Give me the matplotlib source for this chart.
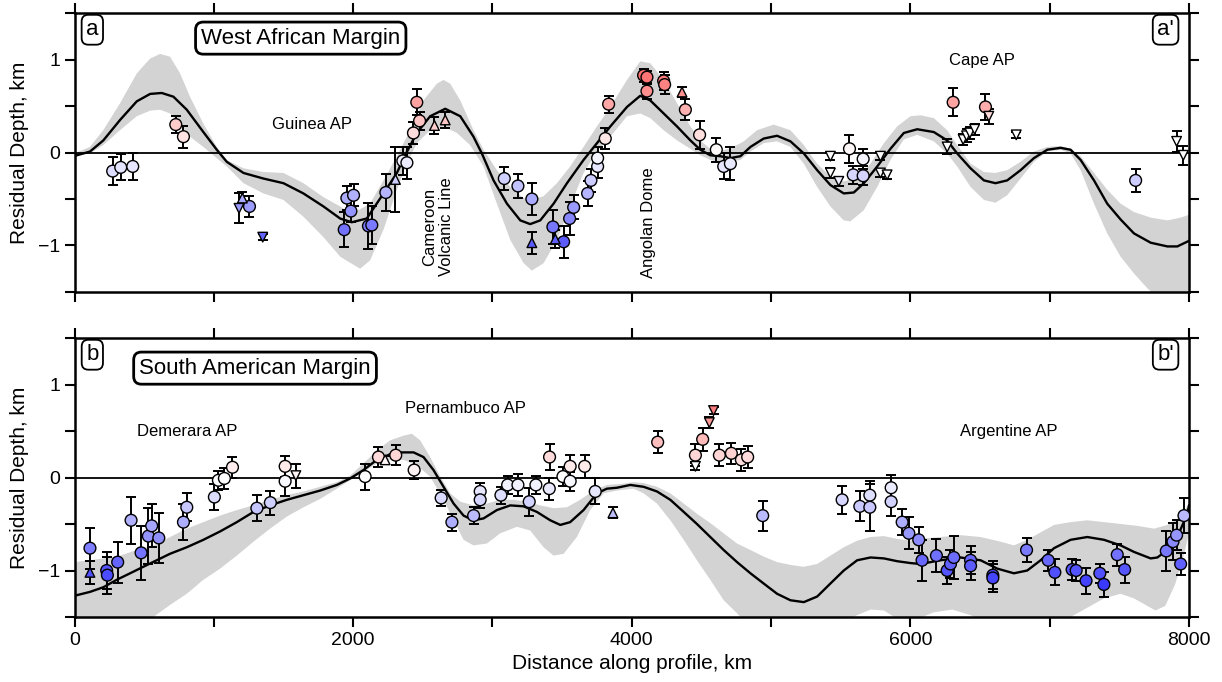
import numpy as np
import matplotlib
matplotlib.use('Agg')
import matplotlib.pyplot as plt
from matplotlib.ticker import MultipleLocator

plt.rcParams['font.family'] = ['Liberation Sans', 'DejaVu Sans']

# ---------------- West African Margin (top) ----------------
top_mean_x = [16, 111, 207, 327, 447, 543, 626, 710, 806, 925, 1021, 1093, 1213, 1356, 1500, 1643, 1787, 1907, 1990, 2098,
              2218, 2314, 2373, 2457, 2553, 2661, 2769, 2864, 2924, 3008, 3104, 3200, 3271, 3343, 3439, 3535, 3654, 3702,
              3846, 3966, 4061, 4133, 4229, 4325, 4421, 4492, 4564, 4636, 4708, 4780, 4852, 4947, 5043, 5139, 5235, 5331,
              5426, 5522, 5594, 5666, 5762, 5857, 5953, 6049, 6168, 6264, 6336, 6432, 6528, 6611, 6695, 6791, 6887, 6983,
              7078, 7150, 7222, 7318, 7413, 7509, 7605, 7725, 7845, 7916, 8000]
top_mean_y = [-0.03, 0.01, 0.13, 0.35, 0.55, 0.63, 0.64, 0.60, 0.46, 0.22, 0.03, -0.10, -0.22, -0.28, -0.33, -0.44, -0.58,
              -0.71, -0.75, -0.71, -0.44, -0.22, -0.03, 0.21, 0.39, 0.47, 0.39, 0.17, -0.01, -0.30, -0.55, -0.73, -0.77,
              -0.73, -0.55, -0.33, -0.08, 0.01, 0.28, 0.49, 0.61, 0.56, 0.42, 0.28, 0.13, 0.03, -0.03, -0.04, -0.06, -0.04,
              0.06, 0.15, 0.18, 0.12, -0.01, -0.19, -0.35, -0.44, -0.43, -0.33, -0.15, 0.04, 0.21, 0.25, 0.22, 0.13, -0.01,
              -0.17, -0.30, -0.33, -0.30, -0.19, -0.06, 0.03, 0.05, 0.03, -0.08, -0.30, -0.55, -0.72, -0.87, -0.97, -1.01,
              -1.01, -0.95]
top_up_x = [0, 111, 207, 327, 447, 543, 614, 686, 758, 829, 925, 1021, 1093, 1213, 1356, 1500, 1643, 1787, 1907, 1990,
            2122, 2218, 2314, 2410, 2505, 2601, 2649, 2697, 2769, 2864, 2936, 3032, 3128, 3224, 3283, 3367, 3463, 3558,
            3654, 3750, 3846, 3966, 4061, 4133, 4229, 4325, 4421, 4492, 4564, 4636, 4708, 4804, 4900, 5019, 5139, 5235,
            5331, 5426, 5522, 5618, 5714, 5810, 5905, 6001, 6073, 6168, 6264, 6336, 6432, 6528, 6611, 6695, 6791, 6887,
            6983, 7078, 7150, 7222, 7318, 7413, 7509, 7605, 7725, 7845, 7940, 8000]
top_up_y = [-0.01, 0.06, 0.24, 0.53, 0.85, 1.01, 1.06, 1.03, 0.85, 0.60, 0.31, 0.06, -0.08, -0.17, -0.21, -0.22, -0.33,
            -0.48, -0.58, -0.66, -0.55, -0.30, -0.04, 0.24, 0.56, 0.74, 0.78, 0.74, 0.56, 0.24, 0.03, -0.19, -0.37, -0.49,
            -0.51, -0.47, -0.33, -0.15, 0.06, 0.28, 0.49, 0.78, 0.98, 0.96, 0.78, 0.53, 0.28, 0.13, 0.04, 0.02, 0.04, 0.12,
            0.24, 0.30, 0.24, 0.08, -0.12, -0.26, -0.31, -0.28, -0.12, 0.10, 0.28, 0.39, 0.40, 0.37, 0.24, 0.08, -0.12,
            -0.21, -0.22, -0.19, -0.10, 0.01, 0.06, 0.07, 0.04, -0.04, -0.22, -0.40, -0.55, -0.64, -0.70, -0.73, -0.70,
            -0.67]
top_lo_x = [0, 111, 207, 327, 447, 543, 614, 686, 758, 829, 925, 1021, 1093, 1213, 1356, 1500, 1643, 1787, 1907, 2050,
            2122, 2218, 2314, 2386, 2457, 2553, 2649, 2745, 2840, 2936, 3032, 3128, 3224, 3283, 3367, 3463, 3558, 3654,
            3750, 3846, 3966, 4061, 4133, 4229, 4325, 4421, 4492, 4564, 4636, 4708, 4780, 4852, 4947, 5043, 5139, 5235,
            5331, 5426, 5522, 5570, 5666, 5762, 5857, 5953, 6049, 6168, 6264, 6336, 6432, 6528, 6611, 6695, 6791, 6887,
            6983, 7078, 7150, 7222, 7318, 7413, 7509, 7605, 7701, 7821, 8000]
top_lo_y = [-0.04, -0.01, 0.08, 0.24, 0.39, 0.45, 0.46, 0.42, 0.30, 0.17, 0.06, -0.06, -0.15, -0.33, -0.44, -0.51, -0.69,
            -0.91, -1.12, -1.25, -1.16, -0.83, -0.40, -0.12, 0.10, 0.24, 0.28, 0.21, 0.08, -0.15, -0.55, -0.94, -1.19,
            -1.27, -1.19, -0.94, -0.58, -0.22, 0.01, 0.17, 0.39, 0.42, 0.37, 0.24, 0.13, 0.04, -0.03, -0.08, -0.10, -0.10,
            -0.08, 0.01, 0.10, 0.12, 0.06, -0.12, -0.37, -0.58, -0.73, -0.74, -0.62, -0.37, -0.08, 0.14, 0.19, 0.12,
            -0.01, -0.15, -0.37, -0.51, -0.54, -0.46, -0.28, -0.10, 0.01, 0.03, -0.01, -0.19, -0.55, -0.87, -1.12, -1.30,
            -1.46, -1.62, -1.75]

# points: (distance km, residual depth km, error km, colour value)
top_circles = [
    (274, -0.20, 0.15, -0.20), (332, -0.16, 0.14, -0.16), (418, -0.15, 0.15, -0.15), (727, 0.30, 0.09, 0.30),
    (782, 0.17, 0.12, 0.17), (1256, -0.58, 0.11, -0.58), (1936, -0.83, 0.19, -0.83), (1955, -0.49, 0.13, -0.49),
    (2003, -0.46, 0.12, -0.46), (1984, -0.63, 0.12, -0.63), (2110, -0.79, 0.25, -0.79), (2134, -0.78, 0.20, -0.78),
    (2235, -0.43, 0.20, -0.43), (2357, -0.09, 0.15, -0.09), (2386, -0.11, 0.17, -0.11), (2433, 0.21, 0.12, 0.21),
    (2457, 0.54, 0.14, 0.54), (2477, 0.34, 0.10, 0.34), (3085, -0.28, 0.12, -0.28), (3183, -0.36, 0.13, -0.36),
    (3283, -0.50, 0.17, -0.50), (3434, -0.80, 0.18, -0.80), (3511, -0.96, 0.17, -0.96), (3554, -0.71, 0.18, -0.71),
    (3583, -0.59, 0.13, -0.59), (3683, -0.44, 0.13, -0.44), (3707, -0.30, 0.12, -0.30), (3755, -0.15, 0.12, -0.15),
    (3755, -0.06, 0.12, -0.06), (3810, 0.15, 0.11, 0.15), (3834, 0.52, 0.09, 0.52), (4085, 0.83, 0.07, 0.83),
    (4109, 0.81, 0.07, 0.81), (4109, 0.66, 0.09, 0.66), (4229, 0.77, 0.10, 0.77), (4236, 0.73, 0.10, 0.73),
    (4385, 0.46, 0.11, 0.46), (4487, 0.19, 0.15, 0.19), (4607, 0.03, 0.13, 0.03), (4660, -0.15, 0.14, -0.15),
    (4708, -0.12, 0.18, -0.12), (5563, 0.04, 0.15, 0.04), (5590, -0.24, 0.10, -0.24), (5661, -0.07, 0.11, -0.07),
    (5661, -0.25, 0.10, -0.25), (6307, 0.54, 0.15, 0.54), (6539, 0.49, 0.14, 0.49), (7617, -0.30, 0.12, -0.30)]
top_up = [
    (1205, -0.49, 0.07, -0.50), (2304, -0.29, 0.35, -0.29), (2584, 0.29, 0.09, 0.29), (2661, 0.35, 0.09, 0.35),
    (3283, -0.97, 0.12, -0.97), (3451, -0.93, 0.10, -0.93), (4361, 0.65, 0.05, 0.65)]
top_down = [
    (1181, -0.60, 0.16, -0.60), (1351, -0.91, 0.03, -0.91), (5426, -0.04, 0.04, 0.0), (5426, -0.22, 0.05, 0.0),
    (5486, -0.31, 0.05, -0.10), (5785, -0.04, 0.04, 0.0), (5785, -0.22, 0.04, 0.0), (5833, -0.24, 0.04, 0.0),
    (6264, 0.06, 0.08, 0.0), (6379, 0.14, 0.06, 0.0), (6403, 0.18, 0.07, 0.0), (6427, 0.21, 0.06, 0.0),
    (6461, 0.25, 0.06, 0.0), (6563, 0.39, 0.08, 0.20), (6760, 0.19, 0.03, 0.0), (7911, 0.12, 0.11, 0.0),
    (7959, -0.03, 0.10, 0.0)]

# ---------------- South American Margin (bottom) ----------------
bot_mean_x = [4, 111, 207, 303, 399, 494, 590, 686, 806, 925, 1045, 1165, 1285, 1404, 1524, 1644, 1764, 1883, 1979, 2074,
              2170, 2266, 2338, 2434, 2505, 2577, 2649, 2721, 2793, 2864, 2936, 3032, 3128, 3224, 3319, 3415, 3487, 3558,
              3654, 3750, 3822, 3894, 3990, 4085, 4181, 4277, 4373, 4468, 4564, 4660, 4756, 4852, 4947, 5043, 5139, 5235,
              5331, 5426, 5522, 5618, 5714, 5810, 5905, 6001, 6073, 6216, 6360, 6504, 6624, 6743, 6839, 6935, 7031, 7150,
              7270, 7390, 7509, 7605, 7725, 7773, 7845, 7916, 7988, 8000]
bot_mean_y = [-1.27, -1.23, -1.18, -1.10, -1.03, -0.96, -0.89, -0.82, -0.75, -0.67, -0.58, -0.48, -0.37, -0.30, -0.24,
              -0.19, -0.14, -0.08, -0.01, 0.08, 0.19, 0.25, 0.27, 0.27, 0.22, 0.08, -0.10, -0.28, -0.41, -0.46, -0.44,
              -0.35, -0.30, -0.31, -0.37, -0.46, -0.51, -0.48, -0.35, -0.17, -0.12, -0.11, -0.08, -0.10, -0.15, -0.24,
              -0.37, -0.50, -0.64, -0.78, -0.91, -1.03, -1.14, -1.25, -1.32, -1.34, -1.28, -1.14, -1.00, -0.89, -0.86,
              -0.87, -0.90, -0.92, -0.93, -0.89, -0.86, -0.89, -0.98, -1.03, -1.00, -0.89, -0.76, -0.67, -0.64, -0.67,
              -0.73, -0.80, -0.87, -0.86, -0.78, -0.64, -0.39, -0.30]
bot_up_x = [0, 111, 207, 327, 447, 566, 686, 806, 925, 1045, 1165, 1285, 1404, 1524, 1644, 1764, 1883, 1979, 2074, 2170,
            2266, 2362, 2422, 2481, 2553, 2625, 2697, 2769, 2864, 2960, 3056, 3152, 3248, 3343, 3439, 3535, 3630, 3726,
            3822, 3918, 4014, 4085, 4181, 4277, 4373, 4468, 4564, 4660, 4756, 4852, 4947, 5043, 5139, 5235, 5331, 5426,
            5522, 5618, 5714, 5810, 5905, 6001, 6073, 6216, 6360, 6504, 6647, 6743, 6839, 6935, 7031, 7150, 7270, 7390,
            7509, 7629, 7749, 7845, 7940, 8000]
bot_up_y = [-0.91, -0.89, -0.87, -0.84, -0.78, -0.73, -0.64, -0.55, -0.48, -0.41, -0.35, -0.30, -0.24, -0.19, -0.15,
            -0.10, -0.05, 0.02, 0.15, 0.29, 0.40, 0.45, 0.47, 0.40, 0.22, 0.01, -0.17, -0.26, -0.30, -0.28, -0.24, -0.24,
            -0.26, -0.30, -0.33, -0.32, -0.24, -0.14, -0.08, -0.07, -0.05, -0.06, -0.10, -0.17, -0.28, -0.39, -0.49,
            -0.60, -0.71, -0.78, -0.85, -0.91, -0.94, -0.96, -0.93, -0.84, -0.75, -0.68, -0.64, -0.63, -0.66, -0.68,
            -0.66, -0.64, -0.62, -0.64, -0.69, -0.73, -0.67, -0.59, -0.51, -0.48, -0.46, -0.48, -0.50, -0.52, -0.55,
            -0.51, -0.42, -0.28]
bot_lo_x = [0, 566, 686, 806, 925, 1045, 1165, 1285, 1404, 1524, 1644, 1764, 1883, 1979, 2074, 2170, 2266, 2362, 2457,
            2553, 2649, 2721, 2793, 2864, 2960, 3056, 3176, 3271, 3367, 3439, 3511, 3606, 3702, 3798, 3894, 4014, 4085,
            4181, 4277, 4373, 4468, 4564, 4660, 4756, 4852, 5043, 5235, 5426, 5618, 5714, 5810, 5905, 6001, 6168, 6300,
            6432, 6600, 6800, 7000, 7150, 7270, 7390, 7509, 7605, 7700, 7760, 7830, 7900, 7960, 8000]
bot_lo_y = [-1.60, -1.50, -1.37, -1.25, -1.10, -0.98, -0.84, -0.69, -0.55, -0.42, -0.32, -0.23, -0.12, -0.03, 0.06, 0.15,
            0.19, 0.19, 0.13, 0.01, -0.24, -0.46, -0.67, -0.73, -0.71, -0.60, -0.53, -0.57, -0.75, -0.84, -0.82, -0.64,
            -0.35, -0.17, -0.14, -0.12, -0.17, -0.28, -0.46, -0.67, -0.89, -1.10, -1.32, -1.46, -1.62, -1.70, -1.70,
            -1.60, -1.48, -1.42, -1.43, -1.52, -1.55, -1.45, -1.42, -1.48, -1.60, -1.70, -1.60, -1.50, -1.40, -1.30,
            -1.25, -1.30, -1.38, -1.43, -1.38, -1.15, -0.85, -0.60]

bot_circles = [
    (111, -0.76, 0.22, -0.76), (231, -1.00, 0.20, -1.00), (236, -1.05, 0.20, -1.05), (310, -0.91, 0.22, -0.91),
    (406, -0.46, 0.25, -0.46), (478, -0.81, 0.29, -0.81), (530, -0.63, 0.30, -0.63), (554, -0.52, 0.23, -0.52),
    (605, -0.65, 0.27, -0.65), (782, -0.48, 0.19, -0.48), (806, -0.32, 0.15, -0.32), (1004, -0.21, 0.14, -0.21),
    (1033, -0.03, 0.10, -0.03), (1076, -0.01, 0.11, -0.01), (1134, 0.11, 0.11, 0.11), (1309, -0.33, 0.14, -0.33),
    (1406, -0.27, 0.13, -0.27), (1512, 0.12, 0.11, 0.12), (1512, -0.04, 0.16, -0.04), (2086, 0.01, 0.14, 0.01),
    (2182, 0.22, 0.11, 0.22), (2306, 0.24, 0.11, 0.24), (2438, 0.08, 0.10, 0.08), (2632, -0.22, 0.09, -0.22),
    (2709, -0.48, 0.09, -0.48), (2865, -0.41, 0.09, -0.41), (2912, -0.15, 0.09, -0.15), (2912, -0.24, 0.09, -0.24),
    (3061, -0.19, 0.09, -0.19), (3109, -0.08, 0.10, -0.08), (3183, -0.08, 0.12, -0.08), (3264, -0.26, 0.15, -0.26),
    (3312, -0.08, 0.10, -0.08), (3408, -0.12, 0.12, -0.12), (3410, 0.22, 0.14, 0.22), (3506, 0.01, 0.10, 0.01),
    (3558, 0.12, 0.12, 0.12), (3558, -0.04, 0.10, -0.04), (3662, 0.12, 0.12, 0.12), (3738, -0.15, 0.14, -0.15),
    (4186, 0.38, 0.12, 0.38), (4457, 0.24, 0.12, 0.24), (4509, 0.41, 0.12, 0.41), (4629, 0.24, 0.12, 0.24),
    (4715, 0.26, 0.11, 0.26), (4787, 0.19, 0.12, 0.19), (4832, 0.22, 0.12, 0.22), (4940, -0.41, 0.16, -0.41),
    (5510, -0.24, 0.15, -0.24), (5637, -0.31, 0.16, -0.31), (5709, -0.19, 0.15, -0.19), (5709, -0.32, 0.25, -0.32),
    (5862, -0.11, 0.14, -0.11), (5862, -0.26, 0.15, -0.26), (5941, -0.48, 0.14, -0.48), (5989, -0.60, 0.17, -0.60),
    (6060, -0.67, 0.14, -0.67), (6084, -0.89, 0.22, -0.89), (6187, -0.84, 0.18, -0.84), (6264, -1.00, 0.15, -1.00),
    (6288, -0.93, 0.15, -0.93), (6312, -0.86, 0.23, -0.86), (6432, -0.89, 0.15, -0.89), (6432, -0.95, 0.15, -0.95),
    (6592, -1.05, 0.15, -1.05), (6592, -1.08, 0.15, -1.08), (6834, -0.78, 0.13, -0.78), (6989, -0.89, 0.11, -0.89),
    (7037, -1.02, 0.14, -1.02), (7161, -0.99, 0.11, -0.99), (7190, -1.00, 0.11, -1.00), (7261, -1.11, 0.14, -1.11),
    (7360, -1.03, 0.10, -1.03), (7389, -1.15, 0.13, -1.15), (7485, -0.83, 0.12, -0.83), (7538, -0.99, 0.14, -0.99),
    (7837, -0.79, 0.21, -0.79), (7885, -0.69, 0.20, -0.69), (7911, -0.62, 0.16, -0.62), (7940, -0.93, 0.12, -0.93),
    (7964, -0.41, 0.19, -0.41)]
bot_up = [(111, -1.02, 0.12, -1.02), (2230, 0.19, 0.04, 0.05), (3865, -0.38, 0.06, -0.38)]
bot_down = [(1589, 0.02, 0.13, 0.05), (4457, 0.12, 0.04, 0.0), (4557, 0.59, 0.06, 0.60), (4587, 0.72, 0.04, 0.75)]

# annotations
top_notes = [("Guinea AP", 1703, 0.30, 0), ("Cameroon\nVolcanic Line", 2611, -0.80, 90),
             ("Angolan Dome", 4121, -0.76, 90), ("Cape AP", 6511, 0.99, 0)]
bot_notes = [("Demerara AP", 810, 0.49, 0), ("Pernambuco AP", 2809, 0.74, 0), ("Argentine AP", 6709, 0.49, 0)]

fig = plt.figure(figsize=(12.22, 6.82), dpi=100)
ax1 = fig.add_axes([74.5 / 1222, 390 / 682, 1114.5 / 1222, 279 / 682])
ax2 = fig.add_axes([74.5 / 1222, 65 / 682, 1114.5 / 1222, 279 / 682])


def draw(ax, mx, my, ux, uy, lx, ly, circ, up, down, notes, title, lab, labp):
    ax.fill(np.concatenate([ux, lx[::-1]]), np.concatenate([uy, ly[::-1]]), color='#d3d3d3', lw=0, zorder=1)
    ax.axhline(0, color='black', lw=1.3, zorder=2)
    ax.plot(mx, my, color='black', lw=1.7, zorder=3)
    groups = [(np.array(circ), 'o', 72), (np.array(up), '^', 48), (np.array(down), 'v', 48)]
    for arr, m, s in groups:
        ax.errorbar(arr[:, 0], arr[:, 1], yerr=arr[:, 2], fmt='none', ecolor='black', elinewidth=1.4,
                    capsize=3.4, capthick=1.4, zorder=4)
    for arr, m, s in groups:
        ax.scatter(arr[:, 0], arr[:, 1], c=arr[:, 3], cmap='bwr', vmin=-1.5, vmax=1.5, marker=m, s=s,
                   edgecolors='black', linewidths=1.0, zorder=5)
    for txt, x, y, rot in notes:
        ax.text(x, y, txt, rotation=rot, ha='center', va='center', fontsize=12, zorder=6,
                multialignment='center')
    ax.text(title[1], title[2], title[0], transform=ax.transAxes, ha='center', va='center', fontsize=16,
            bbox=dict(boxstyle='round,pad=0.25,rounding_size=0.35', fc='white', ec='black', lw=2), zorder=7)
    ax.text(0.016, 0.94, lab, transform=ax.transAxes, ha='center', va='center', fontsize=16,
            bbox=dict(boxstyle='round,pad=0.2,rounding_size=0.3', fc='white', ec='black', lw=1.3), zorder=7)
    ax.text(0.979, 0.94, labp, transform=ax.transAxes, ha='center', va='center', fontsize=16,
            bbox=dict(boxstyle='round,pad=0.2,rounding_size=0.3', fc='white', ec='black', lw=1.3), zorder=7)
    ax.set_xlim(0, 8000)
    ax.set_ylim(-1.5, 1.5)
    ax.set_xticks([0, 2000, 4000, 6000, 8000])
    ax.xaxis.set_minor_locator(MultipleLocator(1000))
    ax.set_yticks([-1, 0, 1])
    ax.set_yticklabels(['\u22121', '0', '1'])
    ax.yaxis.set_minor_locator(MultipleLocator(0.5))
    ax.tick_params(which='both', direction='out', length=7, width=1.5, top=True, right=True, labelsize=14)
    for sp in ax.spines.values():
        sp.set_linewidth(1.8)
    ax.set_ylabel('Residual Depth, km', fontsize=15, labelpad=6)


draw(ax1, top_mean_x, top_mean_y, top_up_x, top_up_y, top_lo_x, top_lo_y, top_circles, top_up, top_down,
     top_notes, ("West African Margin", 0.203, 0.91), 'a', "a'")
draw(ax2, bot_mean_x, bot_mean_y, bot_up_x, bot_up_y, bot_lo_x, bot_lo_y, bot_circles, bot_up, bot_down,
     bot_notes, ("South American Margin", 0.162, 0.892), 'b', "b'")
ax1.tick_params(labelbottom=False)
ax2.set_xlabel('Distance along profile, km', fontsize=15, labelpad=4)

fig.savefig('out.png', dpi=100)
